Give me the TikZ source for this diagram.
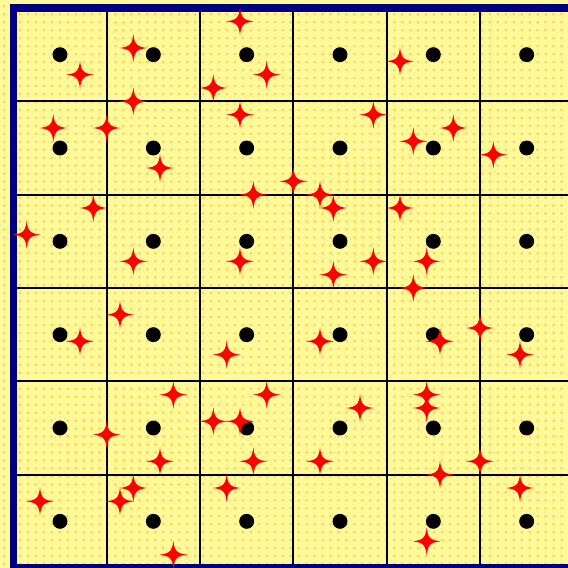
\documentclass[tikz,border=0pt]{standalone}
\usepackage{tikz}
\usetikzlibrary{patterns}
\definecolor{figyellow}{RGB}{255,249,155}
\definecolor{figdot}{RGB}{255,212,70}
\definecolor{fignavy}{RGB}{0,0,128}
\definecolor{figred}{RGB}{255,0,0}
\pgfdeclarepatternformonly{yellowdots}{\pgfqpoint{-1pt}{-1pt}}{\pgfqpoint{9.5pt}{9.5pt}}{\pgfqpoint{8.5pt}{8.5pt}}{%
  \pgfpathcircle{\pgfqpoint{4.25pt}{4.25pt}}{1.6pt}\pgfusepath{fill}}
\tikzset{
  gridline/.style={draw=black, line width=2pt},
  frameline/.style={draw=fignavy, line width=7.5pt},
  centerdot/.style={fill=black},
  sparkle/.pic={
    \fill[figred] (1.05,0) .. controls (0.26,0.09) and (0.09,0.26) .. (0,1.05)
      .. controls (-0.09,0.26) and (-0.26,0.09) .. (-1.05,0)
      .. controls (-0.26,-0.09) and (-0.09,-0.26) .. (0,-1.05)
      .. controls (0.09,-0.26) and (0.26,-0.09) .. cycle;
  }
}

\begin{document}
\begin{tikzpicture}[x=0.5cm,y=-0.5cm]
  \useasboundingbox (-1,-0.6) rectangle (41.6,42);
  % background
  \fill[figyellow] (-1,-0.6) rectangle (41.6,42);
  \fill[pattern=yellowdots, pattern color=figdot] (-1,-0.6) rectangle (41.6,42);
  % cells
  \foreach \k in {7,14,...,35} {
    \draw[gridline] (\k,0) -- (\k,42);
    \draw[gridline] (0,\k) -- (42,\k);
  }
  \draw[frameline] (0,0) rectangle (42,42);
  % cell centres
  \foreach \i in {3.5,10.5,...,38.5}
    \foreach \j in {3.5,10.5,...,38.5}
      \fill[centerdot] (\i,\j) circle (0.56);
  % scattered points
  \foreach \i/\j in {5/5, 9/3, 9/7, 3/9, 7/9, 17/1, 19/5, 15/6, 17/8, 27/8,
      21/13, 29/4, 30/10, 33/9, 36/11, 11/12, 6/15, 1/17, 9/19, 8/23,
      5/25, 18/14, 23/14, 24/15, 17/19, 24/20, 27/19, 23/25, 16/26, 29/15,
      31/19, 30/21, 32/25, 35/24, 38/26, 12/29, 7/32, 11/34, 9/36, 8/37,
      2/37, 12/41, 19/29, 15/31, 17/31, 18/34, 16/36, 26/30, 23/34, 31/29,
      31/30, 35/34, 32/35, 38/36, 31/40}
    \pic at (\i,\j) {sparkle};
\end{tikzpicture}
\end{document}
